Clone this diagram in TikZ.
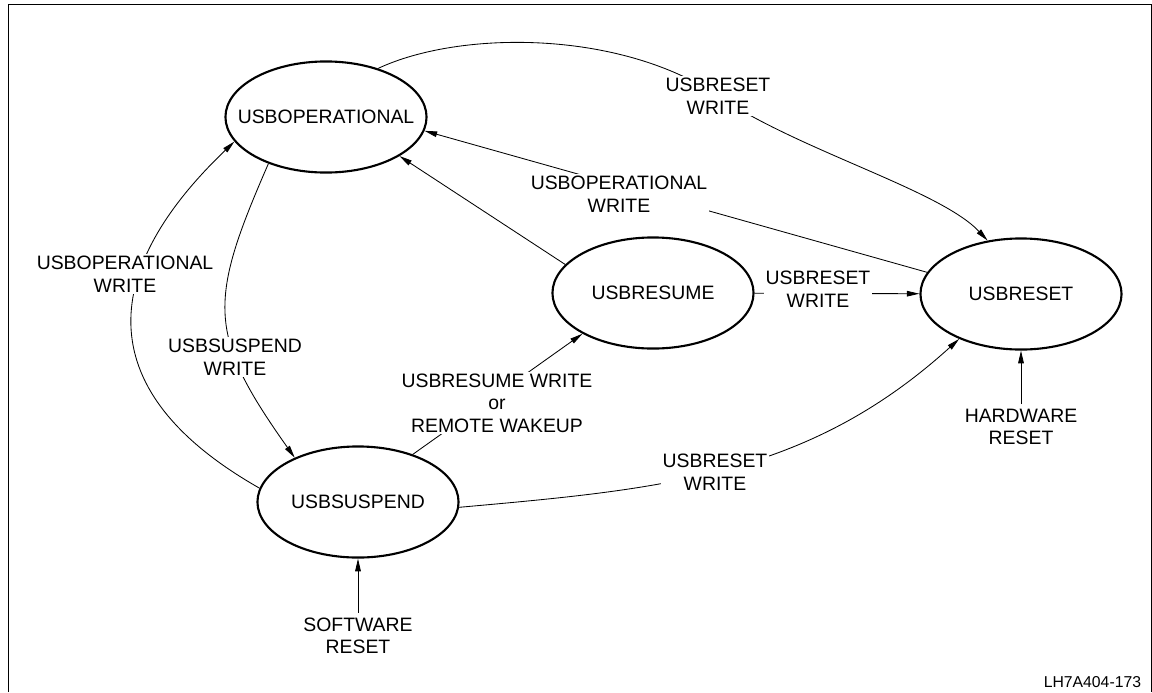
\documentclass[tikz,border=0pt]{standalone}
\usepackage{fontspec}
\setmainfont{Liberation Sans}
\usetikzlibrary{shapes.geometric,arrows.meta}

\tikzset{
  state/.style={ellipse, draw, line width=1.5pt, minimum width=143pt, minimum height=79pt, inner xsep=-30pt, inner ysep=0pt},
  trans/.style={fill=white, align=center, inner sep=1.5pt},
  arr/.style={line width=0.6pt, -{Triangle[length=9pt,width=4pt]}},
  plain/.style={line width=0.6pt}
}

\begin{document}
\begin{tikzpicture}[x=0.025cm, y=-0.025cm, font=\fontsize{13.8}{16}\selectfont]
  \useasboundingbox (0,0) rectangle (1152,692);
  % frame
  \draw[line width=0.7pt] (8,692) -- (8,4) -- (1151,4) -- (1151,692);

  % states
  \node[state] (oper) at (326,117) {USBOPERATIONAL};
  \node[state] (resume) at (653,293) {USBRESUME};
  \node[state] (reset) at (1021,294) {USBRESET};
  \node[state] (suspend) at (358,502) {USBSUSPEND};

  % outside inputs
  \node[align=center] (swreset) at (358,636) {SOFTWARE\\RESET};
  \node[align=center] (hwreset) at (1021,427) {HARDWARE\\RESET};

  % transitions
  \coordinate (viatop) at (718,96);
  \draw[arr] (oper.43) .. controls (460,30) and (620,30) .. (viatop)
    .. controls (800,151) and (940,190) .. (reset.122);
  \draw[arr] (reset.167) -- (oper.-8);
  \draw[arr] (resume.162) -- (oper.-28);
  \draw[arr] (resume) -- (reset);
  \draw[arr] (suspend.41) -- (resume.-150);
  \draw[arr] (suspend.-3) .. controls (664,489) and (808,476) .. (reset.-144);
  \draw[arr] (oper.-141.5) .. controls (208,302) and (207,334) .. (suspend.145);
  \draw[arr] (suspend.172) .. controls (92,393) and (96,274) .. (oper.-165);
  \draw[arr] (swreset.north) -- (suspend.south);
  \draw[arr] (hwreset.north) -- (reset.south);

  % transition labels
  \node[trans] (lbltop) at (viatop) {USBRESET\\WRITE};
  \node[trans] (lblmid) at (619,194) {USBOPERATIONAL\\WRITE};
  \node[trans] (lblrr) at (818,289) {USBRESET\\WRITE};
  \node[trans] (lblwake) at (497,403) {USBRESUME WRITE\\or\\REMOTE WAKEUP};
  \node[trans] (lblsr) at (715,472) {USBRESET\\WRITE};
  \node[trans] (lblleft) at (125,274) {USBOPERATIONAL\\WRITE};
  \node[trans] (lblsusp) at (235,357) {USBSUSPEND\\WRITE};

  \node[anchor=base east, font=\fontsize{11.2}{13}\selectfont] (figid) at (1146,687) {LH7A404-173};
\end{tikzpicture}
\end{document}
